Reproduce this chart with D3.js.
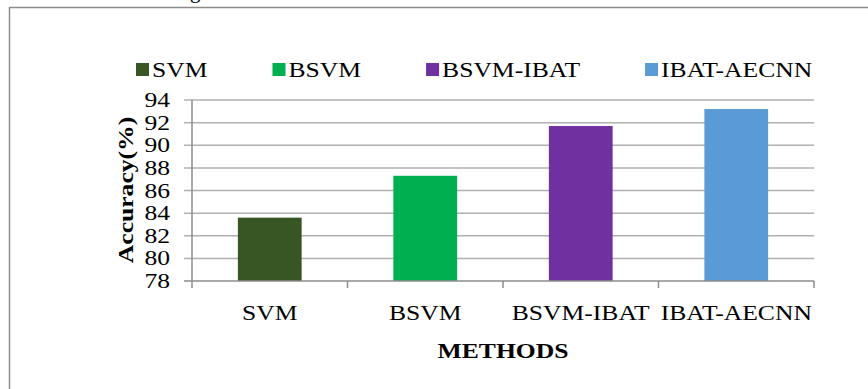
<!DOCTYPE html>
<html><head><meta charset="utf-8">
<script src="https://cdn.jsdelivr.net/npm/d3@7"></script>
<style>body{margin:0;background:#fff}svg{display:block}text{font-family:"Liberation Serif","Times New Roman",serif;fill:#000}</style>
</head><body><div id="c"></div>
<script>
const categories = ["SVM","BSVM","BSVM-IBAT","IBAT-AECNN"];
const values = [83.6, 87.3, 91.7, 93.2];
const colors = ["#375623","#00B050","#7030A0","#5B9BD5"];
const yTicks = [78,80,82,84,86,88,90,92,94];

const W=868,H=389;
const svg=d3.select("#c").append("svg").attr("width",W).attr("height",H);
svg.append("rect").attr("width",W).attr("height",H).attr("fill","#fff");
// clipped frame (left + top lines)
svg.append("path").attr("d",`M9.5,${H} V7.5 H${W}`).attr("fill","none").attr("stroke","#8c8c8c").attr("stroke-width",1.5);
// clipped caption descender
svg.append("text").attr("x",190).attr("y",-2).attr("font-size",21).text("g");

const m={l:192,r:814,t:100,b:281};
const x=d3.scaleBand().domain(categories).range([m.l,m.r]).paddingInner(0.59).paddingOuter(0.295);
const y=d3.scaleLinear().domain([78,94]).range([m.b,m.t]);
const SX=1.22, FS=21;

// gridlines
svg.append("g").selectAll("line").data(yTicks.slice(1)).join("line")
 .attr("x1",m.l-8).attr("x2",m.r).attr("y1",d=>y(d)).attr("y2",d=>y(d))
 .attr("stroke","#b0b0b0").attr("stroke-width",1.5);
// bars
svg.append("g").selectAll("rect").data(categories).join("rect")
 .attr("x",d=>x(d)).attr("width",x.bandwidth())
 .attr("y",(d,i)=>y(values[i])).attr("height",(d,i)=>y(78)-y(values[i]))
 .attr("fill",(d,i)=>colors[i]);
// y axis line
svg.append("line").attr("x1",m.l).attr("x2",m.l).attr("y1",m.t).attr("y2",m.b).attr("stroke","#8c8c8c").attr("stroke-width",1.5);
// x axis line + ticks
svg.append("line").attr("x1",m.l-8).attr("x2",m.r).attr("y1",m.b).attr("y2",m.b).attr("stroke","#8c8c8c").attr("stroke-width",1.5);
const step=x.step();
const bounds=d3.range(categories.length+1).map(i=>m.l+i*(m.r-m.l)/categories.length);
svg.append("g").selectAll("line").data(bounds).join("line")
 .attr("x1",d=>d).attr("x2",d=>d).attr("y1",m.b).attr("y2",m.b+7).attr("stroke","#8c8c8c").attr("stroke-width",1.5);
// y labels
svg.append("g").selectAll("text").data(yTicks).join("text")
 .attr("transform",d=>`translate(170,${y(d)+7}) scale(${SX},1)`).attr("text-anchor","end")
 .attr("font-size",FS).text(d=>d);
// x labels
svg.append("g").selectAll("text").data(categories).join("text")
 .attr("transform",d=>`translate(${x(d)+x.bandwidth()/2},320) scale(${SX},1)`).attr("text-anchor","middle")
 .attr("font-size",FS).text(d=>d);
// axis titles
svg.append("text").attr("transform",`translate(503,358) scale(${SX},1)`).attr("text-anchor","middle")
 .attr("font-size",FS).attr("font-weight","bold").text("METHODS");
svg.append("text").attr("transform",`translate(133,190) rotate(-90) scale(${SX},1)`).attr("text-anchor","middle")
 .attr("font-size",FS).attr("font-weight","bold").text("Accuracy(%)");
// legend
let lx=136;
categories.forEach((c,i)=>{
  svg.append("rect").attr("x",lx).attr("y",63).attr("width",13).attr("height",13).attr("fill",colors[i]);
  const t=svg.append("text").attr("transform",`translate(${lx+16},77) scale(${SX},1)`).attr("font-size",FS).text(c);
  const w=t.node().getComputedTextLength()*SX;
  lx+=16+w+65;
});
</script></body></html>
